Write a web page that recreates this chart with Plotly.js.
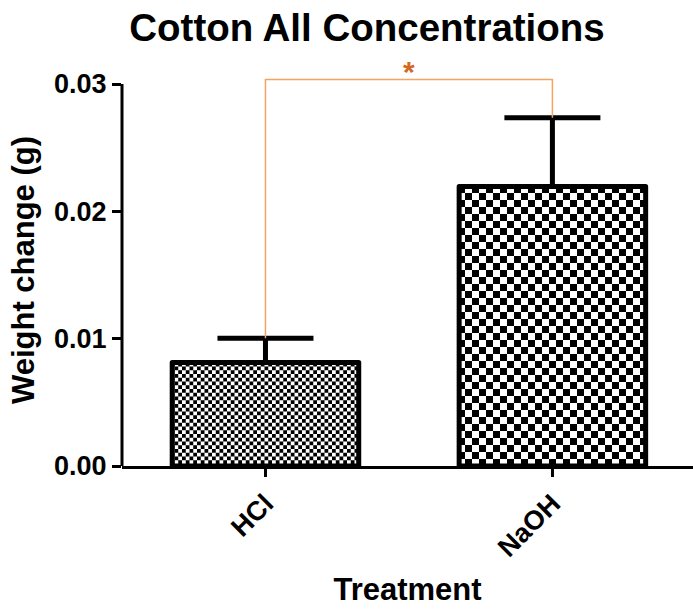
<!DOCTYPE html>
<html>
<head>
<meta charset="utf-8">
<script src="https://cdn.plot.ly/plotly-3.0.1.min.js"></script>
<style>html,body{margin:0;padding:0;background:#fff;}</style>
</head>
<body>
<div id="chart" style="width:693px;height:609px;"></div>
<script>
// ---- data ----
const categories = ["HCl", "NaOH"];
const meanValues = [0.00813, 0.02195];
const errorUpper = [0.0019, 0.0054];
const yTickValues = [0, 0.01, 0.02, 0.03];
const yTickLabels = ["0.00", "0.01", "0.02", "0.03"];
const significanceLabel = "*";
const checkerSizes = [3.75, 7];

const FONT = "Liberation Sans, Arial, sans-serif";
const catIdx = categories.map((c, i) => i);
const errTops = meanValues.map((m, i) => m + errorUpper[i]);
const bracketTop = Math.max(...errTops) + 0.003;
const axisTop = yTickValues[yTickValues.length - 1];

const trace = {
  type: "bar",
  x: catIdx,
  y: meanValues,
  width: 0.65,
  marker: { color: "#ffffff", line: { color: "#000000", width: 5 } },
  error_y: {
    type: "data", symmetric: false,
    array: errorUpper, arrayminus: meanValues.map(() => 0),
    color: "#000000", thickness: 5, width: 48
  },
  hoverinfo: "skip"
};

const layout = {
  width: 693, height: 609,
  margin: { l: 122, r: 0, t: 74, b: 143 },
  paper_bgcolor: "#ffffff", plot_bgcolor: "#ffffff",
  showlegend: false,
  font: { family: FONT, color: "#000000" },
  title: {
    text: "Cotton All Concentrations",
    font: { family: FONT, size: 38.5, weight: 700, color: "#000000" },
    x: 367 / 693, xanchor: "center", xref: "container",
    y: 1 - 28 / 609, yanchor: "middle", yref: "container"
  },
  xaxis: {
    range: [-0.5, 1.49],
    tickmode: "array", tickvals: catIdx, ticktext: categories,
    tickangle: -45,
    tickfont: { family: FONT, size: 27, weight: 700 },
    ticks: "outside", ticklen: 8, tickwidth: 3, tickcolor: "#000000",
    showline: true, linecolor: "#000000", linewidth: 3,
    showgrid: false, zeroline: false, fixedrange: true,
    title: { text: "Treatment", font: { family: FONT, size: 31, weight: 700 }, standoff: 17 }
  },
  yaxis: {
    range: [0, axisTop * 392 / 382],
    tickmode: "array", tickvals: yTickValues, ticktext: yTickLabels,
    tickfont: { family: FONT, size: 27, weight: 700 },
    ticks: "outside", ticklen: 9, tickwidth: 3, tickcolor: "#000000",
    showline: false, showgrid: false, zeroline: false, fixedrange: true,
    title: { text: "Weight change (g)", font: { family: FONT, size: 31, weight: 700 }, standoff: 10 }
  },
  shapes: [
    {
      type: "line", xref: "paper", yref: "y",
      x0: 0, x1: 0, y0: yTickValues[0], y1: axisTop,
      line: { color: "#000000", width: 3 }
    },
    {
      type: "path", xref: "x", yref: "y",
      path: `M ${catIdx[0]},${errTops[0]} L ${catIdx[0]},${bracketTop} L ${catIdx[1]},${bracketTop} L ${catIdx[1]},${errTops[1]}`,
      line: { color: "#F4A460", width: 1.5 }
    }
  ],
  annotations: [
    {
      xref: "x", yref: "y",
      x: (catIdx[0] + catIdx[1]) / 2, y: bracketTop,
      yanchor: "bottom", xanchor: "center", yshift: -10,
      text: significanceLabel, showarrow: false,
      font: { family: FONT, size: 30, weight: 700, color: "#D2691E" }
    }
  ]
};

Plotly.newPlot("chart", [trace], layout, { staticPlot: true, displayModeBar: false }).then(gd => {
  const svg = gd.querySelector("svg.main-svg");
  const NS = "http://www.w3.org/2000/svg";
  let defs = svg.querySelector("defs");
  if (!defs) { defs = document.createElementNS(NS, "defs"); svg.insertBefore(defs, svg.firstChild); }
  checkerSizes.forEach((c, i) => {
    const p = document.createElementNS(NS, "pattern");
    p.setAttribute("id", "checker" + i);
    p.setAttribute("patternUnits", "userSpaceOnUse");
    p.setAttribute("width", 2 * c);
    p.setAttribute("height", 2 * c);
    const bg = document.createElementNS(NS, "rect");
    bg.setAttribute("width", 2 * c); bg.setAttribute("height", 2 * c); bg.setAttribute("fill", "#ffffff");
    p.appendChild(bg);
    [[0, 0], [c, c]].forEach(([x, y]) => {
      const r = document.createElementNS(NS, "rect");
      r.setAttribute("x", x); r.setAttribute("y", y);
      r.setAttribute("width", c); r.setAttribute("height", c);
      r.setAttribute("fill", "#000000");
      p.appendChild(r);
    });
    defs.appendChild(p);
  });
  gd.querySelectorAll(".barlayer .point path").forEach((path, i) => {
    path.style.fill = "url(#checker" + (i % checkerSizes.length) + ")";
    path.style.strokeLinejoin = "round";
  });
});
</script>
</body>
</html>
